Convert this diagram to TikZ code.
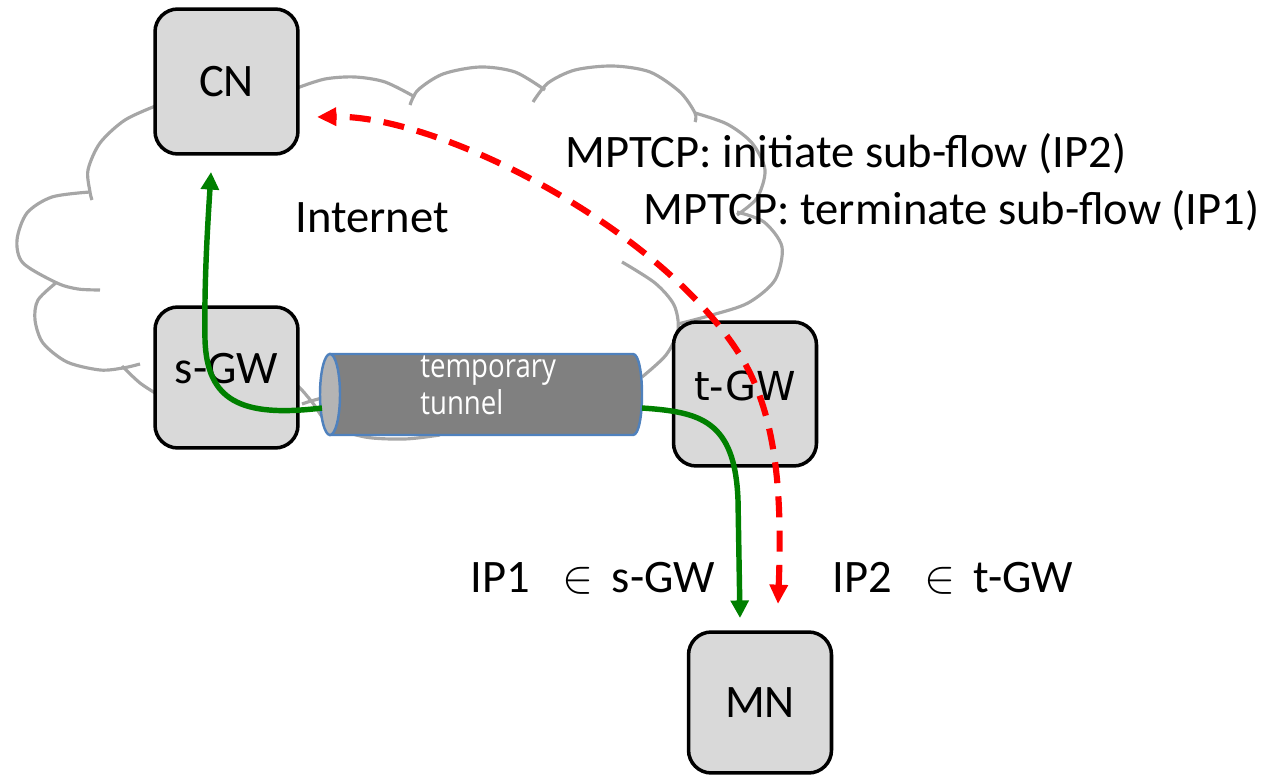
\documentclass[tikz,border=0pt]{standalone}
\usepackage{fix-cm}
\usepackage{fontspec}
\setmainfont{Carlito}
\newfontfamily\dvs{DejaVu Sans}
\newfontfamily\tunfont[FakeStretch=0.84]{Open Sans}
\usetikzlibrary{arrows.meta}
\definecolor{boxgray}{RGB}{217,217,217}
\definecolor{cloudgray}{RGB}{166,166,166}
\definecolor{tunbody}{RGB}{128,128,128}
\definecolor{tuncap}{RGB}{180,180,180}
\definecolor{tunedge}{RGB}{79,129,189}
\definecolor{flowgreen}{RGB}{0,128,0}
\definecolor{flowred}{RGB}{255,0,0}
\begin{document}
\begin{tikzpicture}[x=0.02cm,y=-0.02cm,
  cloudline/.style={draw=cloudgray,line width=1.8pt},
  netbox/.style={draw=black,line width=2pt,fill=boxgray,rounded corners=13pt,minimum width=2.86cm,minimum height=2.86cm,inner sep=0pt,font=\fontsize{26.5}{31}\selectfont},
  lbl/.style={anchor=base west,inner sep=0pt,font=\fontsize{26.5}{31}\selectfont},
  tunlbl/.style={anchor=base west,inner sep=0pt,text=white,font=\tunfont\fontsize{18.7}{21}\selectfont},
  greenflow/.style={draw=flowgreen,line width=3.1pt,-{Triangle[length=10pt,width=10pt]}},
  redflow/.style={draw=flowred,line width=3.5pt,dash pattern=on 12pt off 7.5pt,{Triangle[length=11pt,width=10pt]}-{Triangle[length=11pt,width=10pt]}},
]
\useasboundingbox (0,0) rectangle (1284,776);

% cloud
\draw[cloudline] plot[smooth] coordinates {(297,88) (325,79) (355,77) (385,82) (415,97)};
\draw[cloudline] plot[smooth] coordinates {(410,105) (418,90) (443,74) (480,67) (515,72) (545,90)};
\draw[cloudline] plot[smooth] coordinates {(533,102) (548,83) (575,70) (613,66) (650,72) (680,92) (695,113) (695,122)};
\draw[cloudline] plot[smooth] coordinates {(695,113) (727,124) (752,143) (765,170) (757,198) (737,215)};
\draw[cloudline] plot[smooth] coordinates {(737,212) (764,222) (782,247) (775,280) (748,303) (712,315) (678,324)};
\draw[cloudline] plot[smooth] coordinates {(622,262) (655,283) (674,305) (678,330) (666,355) (642,377)};
\draw[cloudline] plot[smooth] coordinates {(280,372) (298,386) (312,402) (330,425) (365,437) (405,439) (440,435)};
\draw[cloudline] plot[smooth] coordinates {(302,404) (311,401) (322,398)};
\draw[cloudline] plot[smooth] coordinates {(122,366) (140,383) (160,396)};
\draw[cloudline] plot[smooth] coordinates {(158,105) (125,120) (100,143) (88,170) (90,192) (92,200)};
\draw[cloudline] plot[smooth] coordinates {(90,192) (52,197) (27,213) (17,240) (23,263) (57,283) (78,289) (100,290)};
\draw[cloudline] plot[smooth] coordinates {(57,282) (38,300) (35,320) (43,343) (67,362) (100,370) (123,368) (140,364)};

% boxes
\node[netbox, minimum height=2.9cm] (CN) at (226.5,81.5) {CN};
\node[netbox, minimum height=2.82cm, text depth=10.8pt] (sGW) at (226.5,377.5) {s-GW};
\node[netbox, minimum height=2.88cm, text depth=10pt, font=\dvs\fontsize{22.7}{27}\selectfont] (tGW) at (745,394) {t-GW};
\node[netbox, minimum height=2.82cm] (MN) at (760,702.5) {MN};

% tunnel
\path[fill=tunbody,draw=tunedge,line width=1.4pt] (330,354) -- (633,354) .. controls (645,354) and (645,435) .. (633,435) -- (330,435) -- cycle;
\path[fill=tuncap,draw=tunedge,line width=1.4pt] (330,394.5) ellipse [x radius=10, y radius=40.5];
\node[tunlbl] (tt1) at (420,378) {temporary};
\node[tunlbl] (tt2) at (420,415) {tunnel};

% flows
\coordinate (tunL) at (322,408);
\coordinate (tunR) at (642,408);
\coordinate (cnIn) at (211,172);
\coordinate (mnIn) at (740,618);
\coordinate (rStart) at (778,604);
\coordinate (rEnd) at (317,117);
\draw[greenflow] (tunL) .. controls (240,418) and (207,400) .. (205,340) .. controls (204,280) and (208,220) .. (cnIn);
\draw[greenflow] (tunR) .. controls (700,412) and (735,420) .. (738,500) -- (mnIn);
\draw[redflow] (rStart) .. controls (782,500) and (778,420) .. (743,360) .. controls (665,230) and (440,115) .. (rEnd);

% labels
\node[lbl] (inet) at (295,233) {Internet};
\node[lbl] (init) at (565,168) {MPTCP: initiate sub-flow (IP2)};
\node[lbl] (term) at (643,225) {MPTCP: terminate sub-flow (IP1)};
\node[lbl] (ip1) at (470,592) {IP1\hspace{0.7em}$\in$\hspace{0.4em}s-GW};
\node[lbl] (ip2) at (832,592) {IP2\hspace{0.7em}$\in$\hspace{0.4em}t-GW};
\end{tikzpicture}
\end{document}
